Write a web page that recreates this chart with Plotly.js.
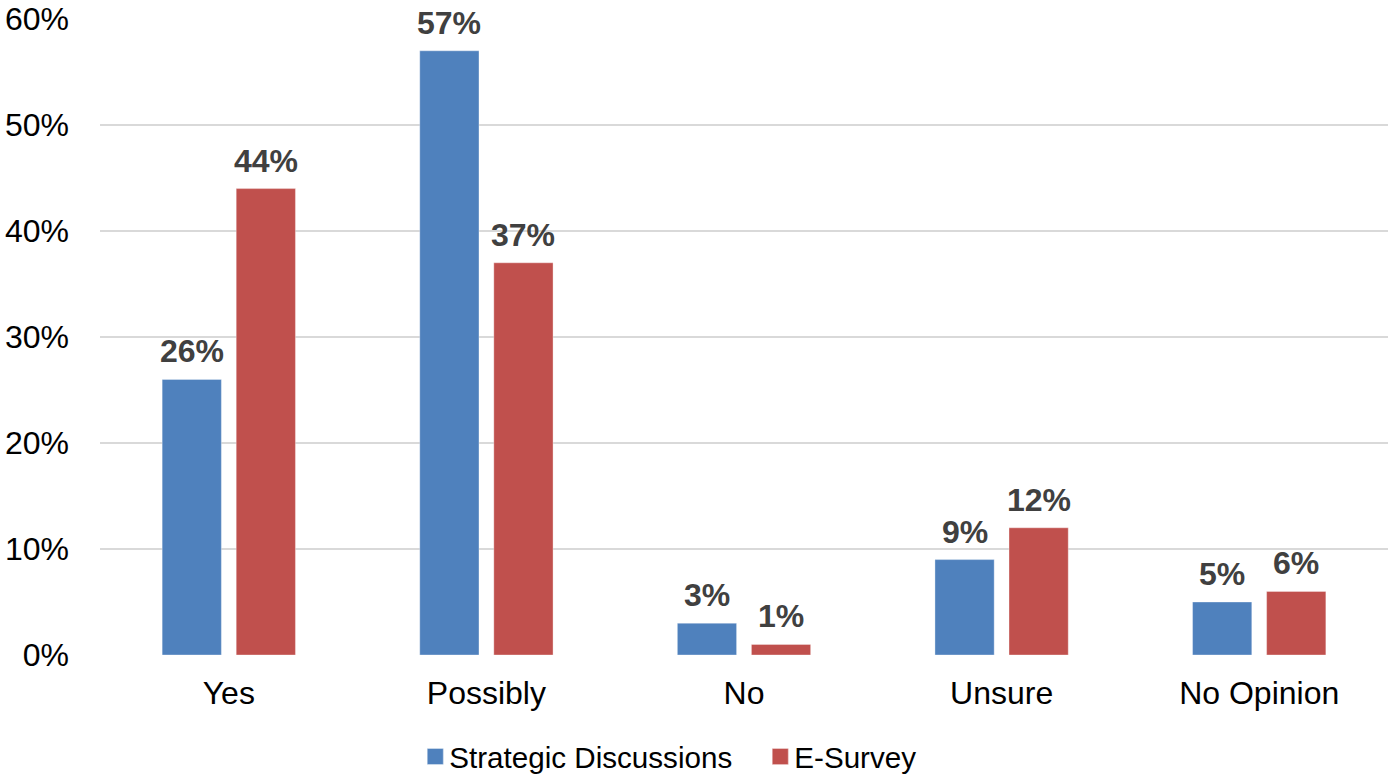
<!DOCTYPE html>
<html>
<head>
<meta charset="utf-8">
<script src="https://cdn.plot.ly/plotly-3.0.1.min.js"></script>
<style>
  html, body { margin: 0; padding: 0; background: #ffffff; }
  #chart { width: 1388px; height: 779px; }
</style>
</head>
<body>
<div id="chart"></div>
<script>
// Responses by category, in percent
const categories = ['Yes', 'Possibly', 'No', 'Unsure', 'No Opinion'];
const strategicDiscussions = [26, 57, 3, 9, 5];
const eSurvey = [44, 37, 1, 12, 6];
const yTickValues = [0, 10, 20, 30, 40, 50, 60];
const yTickLabels = ['0%', '10%', '20%', '30%', '40%', '50%', '60%'];

const BLUE = '#4F81BD';
const RED = '#C0504D';
const FONT = 'Liberation Sans, Arial, sans-serif';

const traces = [
  {
    type: 'bar', name: 'Strategic Discussions',
    x: categories, y: strategicDiscussions,
    marker: { color: BLUE, line: { color: 'rgba(255,255,255,0.35)', width: 1 } },
    hoverinfo: 'none'
  },
  {
    type: 'bar', name: 'E-Survey',
    x: categories, y: eSurvey,
    marker: { color: RED, line: { color: 'rgba(255,255,255,0.35)', width: 1 } },
    hoverinfo: 'none'
  }
];

// Value labels above each bar, shifted left/right onto their bar in the group
const annotations = [];
[[strategicDiscussions, -37], [eSurvey, 37]].forEach(([values, shift]) => {
  values.forEach((v, i) => {
    annotations.push({
      x: categories[i], y: v, xref: 'x', yref: 'y',
      text: '<b>' + v + '%</b>',
      showarrow: false, xanchor: 'center', yanchor: 'bottom',
      xshift: shift, yshift: 8,
      font: { family: FONT, size: 32, color: '#404040' }
    });
  });
});

const layout = {
  width: 1388, height: 779,
  margin: { l: 100, r: 0, t: 19, b: 124, autoexpand: false },
  paper_bgcolor: '#ffffff', plot_bgcolor: '#ffffff',
  barmode: 'group', bargap: 0.425, bargroupgap: 0.2,
  font: { family: FONT, color: '#000000' },
  showlegend: true,
  legend: {
    orientation: 'h', x: 0.508, xanchor: 'center', y: -0.16, yanchor: 'middle',
    font: { family: FONT, size: 29.6, color: '#000000' },
    itemwidth: 30, traceorder: 'normal',
    entrywidth: 300, entrywidthmode: 'pixels'
  },
  xaxis: {
    type: 'category', showgrid: false, zeroline: false, showline: false,
    ticks: '', tickfont: { family: FONT, size: 32, color: '#000000' },
    ticklabelstandoff: 16
  },
  yaxis: {
    range: [0, 60], tickvals: yTickValues, ticktext: yTickLabels,
    showgrid: true, gridcolor: '#d9d9d9', gridwidth: 2,
    zeroline: false, showline: false, ticks: '',
    tickfont: { family: FONT, size: 32, color: '#000000' },
    ticklabelstandoff: 30
  },
  annotations: annotations
};

Plotly.newPlot('chart', traces, layout, { displayModeBar: false, staticPlot: true }).then(() => {
  // Larger square legend swatches, nudged toward their labels
  document.querySelectorAll('#chart .legend .legendpoints path').forEach(p => {
    const base = p.getAttribute('transform') || '';
    p.setAttribute('transform', base + ' translate(6,0) scale(1.35)');
  });
});
</script>
</body>
</html>
